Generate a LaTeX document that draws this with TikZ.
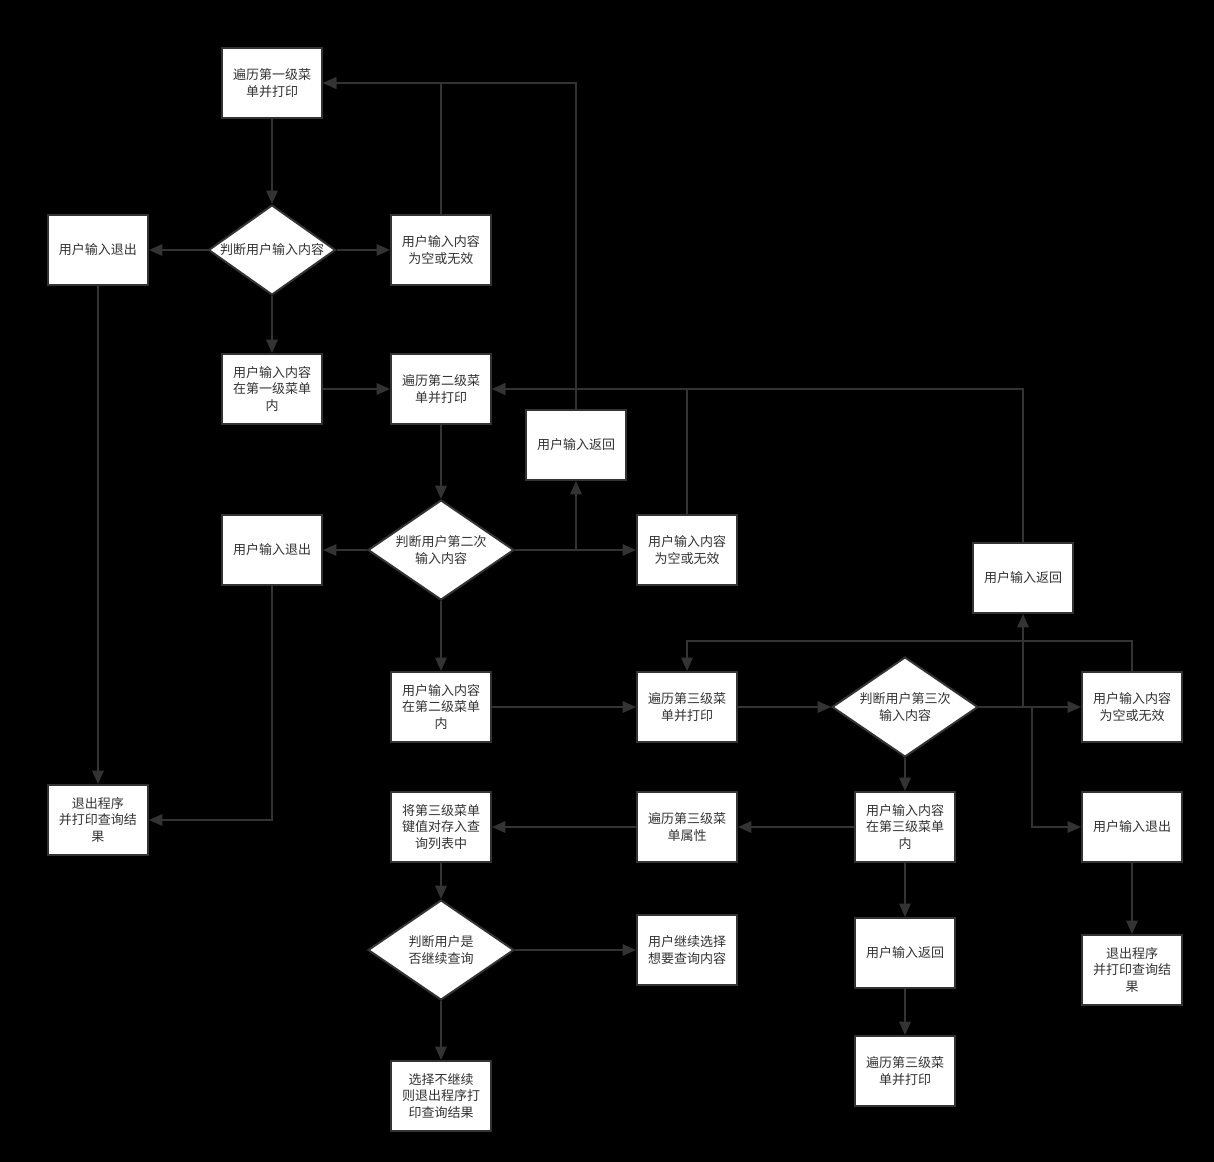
\documentclass[tikz,border=0pt]{standalone}
\usepackage{fontspec}
\newfontfamily\cjk{Noto Sans CJK SC}
\usetikzlibrary{arrows.meta,positioning,shapes.geometric}
\definecolor{ink}{HTML}{333333}

\begin{document}
\begin{tikzpicture}[
  node distance=40pt and 40pt,
  box/.style={draw=ink, line width=1.5pt, fill=white, text=ink, align=center,
              font=\cjk\fontsize{9.75pt}{12.5pt}\selectfont,
              minimum width=75pt, minimum height=52.5pt, inner sep=2pt},
  dec/.style={diamond, draw=ink, line width=1.5pt, fill=white, text=ink, align=center,
              font=\cjk\fontsize{9.75pt}{12.5pt}\selectfont, inner sep=0pt,
              minimum width=109.5pt, minimum height=75pt, aspect=1.46},
  arr/.style={-{Triangle[length=10pt,width=8.5pt]}, line width=1.5pt, draw=ink}]
\fill[black] (0,0) rectangle (910.5pt,-871.5pt);
% first menu
\node[box] (a1) at (204pt,-62.25pt) {遍历第一级菜\\单并打印};
\node[dec, minimum width=95.25pt, minimum height=67.5pt, aspect=1.41,
      below=63.75pt of a1] (d1) {判断用户输入内容};
\node[box, left=43.9pt of d1] (q1) {用户输入退出};
\node[box, right=40.1pt of d1] (e1) {用户输入内容\\为空或无效};
\node[box, below=42.75pt of d1] (in1) {用户输入内容\\在第一级菜单\\内};
\node[box, below=373.5pt of q1] (exit1) {退出程序\\并打印查询结\\果};
% second menu
\node[box, right=50.25pt of in1] (a2) {遍历第二级菜\\单并打印};
\node[box, right=24.75pt of a2, yshift=-42pt] (r2) {用户输入返回};
\node[dec, below=55.5pt of a2] (d2) {判断用户第二次\\输入内容};
\node[box, left=33pt of d2] (q2) {用户输入退出};
\node[box, right=90.75pt of d2] (e2) {用户输入内容\\为空或无效};
\node[box, below=52.5pt of d2] (in2) {用户输入内容\\在第二级菜单\\内};
% third menu
\node[box, right=108pt of in2] (a3) {遍历第三级菜\\单并打印};
\node[dec, right=69.75pt of a3] (d3) {判断用户第三次\\输入内容};
\node[box, right=76.5pt of d3] (e3) {用户输入内容\\为空或无效};
\node[box, above=42.75pt of e3, xshift=-81.75pt] (r3) {用户输入返回};
\node[box, below=24.75pt of d3] (in3) {用户输入内容\\在第三级菜单\\内};
\node[box, right=93.75pt of in3] (q3) {用户输入退出};
\node[box, below=53.25pt of q3] (exit2) {退出程序\\并打印查询结\\果};
\node[box, below=40.5pt of in3] (r3b) {用户输入返回};
\node[box, below=34.5pt of r3b] (a3b) {遍历第三级菜\\单并打印};
\node[box, left=87pt of in3] (attr) {遍历第三级菜\\单属性};
\node[box, left=108pt of attr] (store) {将第三级菜单\\键值对存入查\\询列表中};
\node[dec, below=27pt of store] (d4) {判断用户是\\否继续查询};
\node[box, right=90.75pt of d4] (cont) {用户继续选择\\想要查询内容};
\node[box, below=44.25pt of d4] (stop) {选择不继续\\则退出程序打\\印查询结果};
\coordinate (j3) at ([xshift=39.75pt]d3.east);
% connectors
\draw[arr] (a1) -- (d1);
\draw[arr] (d1) -- (q1);
\draw[arr] (d1) -- (e1);
\draw[arr] (d1) -- (in1);
\draw[arr] (e1) |- (a1);
\draw[arr] (r2) |- (a1);
\draw[arr] (q1) -- (exit1);
\draw[arr] (in1) -- (a2);
\draw[arr] (a2) -- (d2);
\draw[arr] (d2) -- (q2);
\draw[arr] (d2) -- (e2);
\draw[arr] (d2.east) -| (r2);
\draw[arr] (e2) |- (a2);
\draw[arr] (r3) |- (a2);
\draw[arr] (q2) |- (exit1);
\draw[arr] (d2) -- (in2);
\draw[arr] (in2) -- (a3);
\draw[arr] (a3) -- (d3);
\draw[arr] (d3) -- (e3);
\draw[arr] (d3.east) -| (r3);
\draw[arr] (d3.east) -- (j3) |- (q3);
\draw[arr] (e3.north) -- ++(0,22.5pt) -| (a3);
\draw[arr] (d3) -- (in3);
\draw[arr] (in3) -- (attr);
\draw[arr] (attr) -- (store);
\draw[arr] (in3) -- (r3b);
\draw[arr] (r3b) -- (a3b);
\draw[arr] (q3) -- (exit2);
\draw[arr] (store) -- (d4);
\draw[arr] (d4) -- (cont);
\draw[arr] (d4) -- (stop);
\end{tikzpicture}
\end{document}
